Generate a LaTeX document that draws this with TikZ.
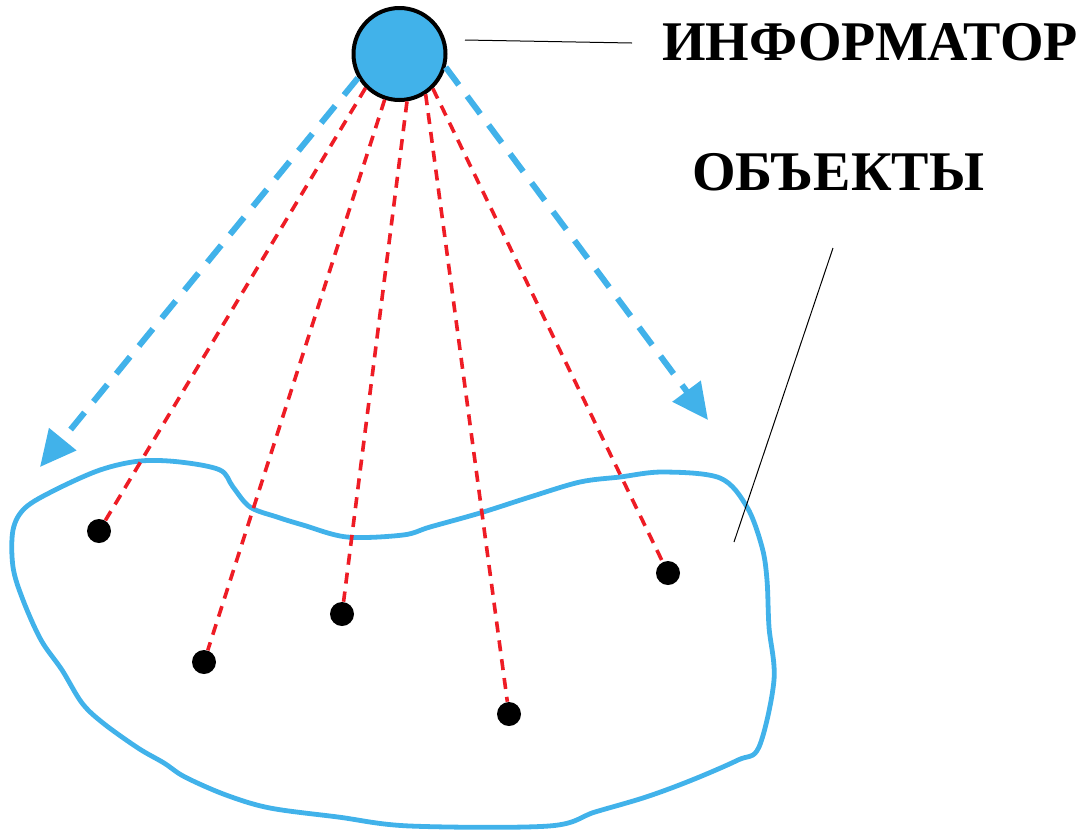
\documentclass[tikz,border=0pt]{standalone}
\usepackage{fontspec}
\setmainfont{Liberation Serif}
\usetikzlibrary{arrows.meta,positioning,calc}
\definecolor{scblue}{RGB}{65,178,234}
\definecolor{scred}{RGB}{238,28,37}
\tikzset{
  scsource/.style={
    circle, draw=black, fill=scblue, line width=2pt,
    minimum size=46pt, inner sep=0pt
  },
  scobject/.style={circle, fill=black, minimum size=12pt, inner sep=0pt},
  scray/.style={
    draw=scblue, line width=3pt, dash pattern=on 11pt off 7pt,
    -{Triangle[length=18pt,width=17pt]}
  },
  sclink/.style={draw=scred, line width=1.8pt, dash pattern=on 5.5pt off 4pt},
  scarea/.style={draw=scblue, line width=2.4pt, line join=round},
  scleader/.style={draw=black, line width=0.5pt},
  sclabel/.style={font=\fontsize{28}{30}\selectfont\bfseries, inner sep=0pt}
}

\begin{document}
\begin{tikzpicture}[x=0.5pt,y=-0.5pt]
\useasboundingbox (0,0) rectangle (1088,832);
% region of the objects
\draw[scarea] plot[smooth cycle,tension=0.55] coordinates {
  (13,530) (25,508) (55,490) (100,470) (140,461) (180,462) (220,470)
  (233,487) (250,507) (277,517) (303,525) (347,537) (403,535) (430,527)
  (480,513) (530,497) (580,482) (620,477) (663,472) (720,478) (747,507)
  (762,547) (767,580) (769,627) (774,680) (759,747) (738,760) (692,780)
  (646,797) (595,812) (549,826) (410,826) (338,817) (270,808) (226,795)
  (185,777) (164,763) (138,748) (103,723) (82,703) (62,670) (41,640)
  (23,600) (13,567)};

% source and objects
\node[scsource] (inf) at (399.5,54) {};
\node[scobject] (obj1) at (99,531) {};
\node[scobject] (obj2) at (204,662) {};
\node[scobject] (obj3) at (342,614) {};
\node[scobject] (obj4) at (509,714) {};
\node[scobject] (obj5) at (668,573) {};

% rays of the source
\coordinate (rayl) at (40,467);
\coordinate (rayr) at (708,420);
\draw[scray] (inf.210) -- (rayl);
\draw[scray] (inf.344) -- (rayr);

\draw[sclink] (inf.225) -- (obj1);
\draw[sclink] (inf.252) -- (obj2);
\draw[sclink] (inf.279) -- (obj3);
\draw[sclink] (inf.303) -- (obj4);
\draw[sclink] (inf.314) -- (obj5);

% labels
\node[sclabel,anchor=base west] (lblinf) at (662,60) {ИНФОРМАТОР};
\node[sclabel,anchor=base west] (lblobj) at (692,190) {ОБЪЕКТЫ};
\coordinate (infa) at (465,40);
\coordinate (infb) at (632,43);
\coordinate (obja) at (833,248);
\coordinate (objb) at (734,542);
\draw[scleader] (infa) -- (infb);
\draw[scleader] (obja) -- (objb);
\end{tikzpicture}
\end{document}
